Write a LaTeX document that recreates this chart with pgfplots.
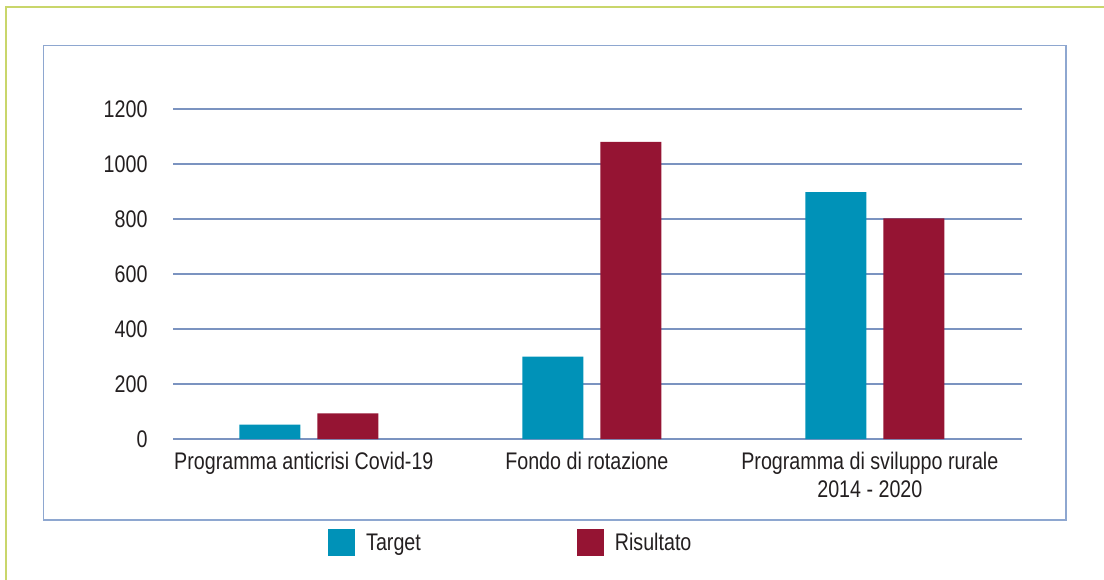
\documentclass[border=0pt]{standalone}
\usepackage{fontspec}
\setmainfont{Liberation Sans}[FakeStretch=0.82]
\usepackage{pgfplots}
\pgfplotsset{compat=1.18}

\definecolor{target}{HTML}{0092B8}
\definecolor{risult}{HTML}{951433}
\definecolor{gridblue}{HTML}{7B93C0}
\definecolor{framblue}{HTML}{8EA7D0}
\definecolor{outerg}{HTML}{C9D66B}
\definecolor{txt}{HTML}{231F20}

\begin{document}
\begin{tikzpicture}
\useasboundingbox (0,0) rectangle (1104pt,-580pt);
% cornice esterna e riquadro del grafico
\draw[outerg, line width=1.6pt] (6pt,-580pt) -- (6pt,-7pt) -- (1104pt,-7pt);
\draw[framblue, line width=1.6pt] (43.5pt,-45.5pt) rectangle (1066pt,-520pt);

\begin{axis}[
    at={(173pt,-439pt)}, anchor=south west,
    scale only axis,
    width=849pt, height=330pt,
    ybar=17pt,
    bar width=61pt,
    xmin=-0.48, xmax=2.52,
    ymin=0, ymax=1200,
    ytick={0,200,...,1200},
    xtick={0,1,2},
    xticklabels={Programma anticrisi Covid-19, Fondo di rotazione, {Programma di sviluppo rurale\\2014 - 2020}},
    axis line style={draw=none},
    tick style={draw=none},
    ymajorgrids,
    grid style={gridblue, line width=1.2pt},
    major tick length=0pt,
    font=\fontsize{24}{28}\selectfont,
    /pgf/number format/assume math mode=true,
    /pgf/number format/1000 sep={},
    tick label style={text=txt, font=\fontsize{24}{28}\selectfont},
    yticklabel style={anchor=east, xshift=-22pt},
    xticklabel style={anchor=north, align=center, yshift=-10pt, xshift=-5pt},
    legend style={at={(axis description cs:0.179,-0.267)}, anchor=north west,
        draw=none, fill=none, legend columns=2, text=txt,
        font=\fontsize{24}{28}\selectfont,
        /tikz/every odd column/.append style={column sep=9pt},
        /tikz/every even column/.append style={column sep=154pt}},
    legend image code/.code={\fill[#1] (0pt,-13.5pt) rectangle (27pt,13.5pt);},
]
\addplot[draw=none, fill=target] coordinates {(0,52) (1,300) (2,898)};
\addplot[draw=none, fill=risult] coordinates {(0,93) (1,1080) (2,802)};
\legend{Target, Risultato}
\end{axis}
\end{tikzpicture}
\end{document}
